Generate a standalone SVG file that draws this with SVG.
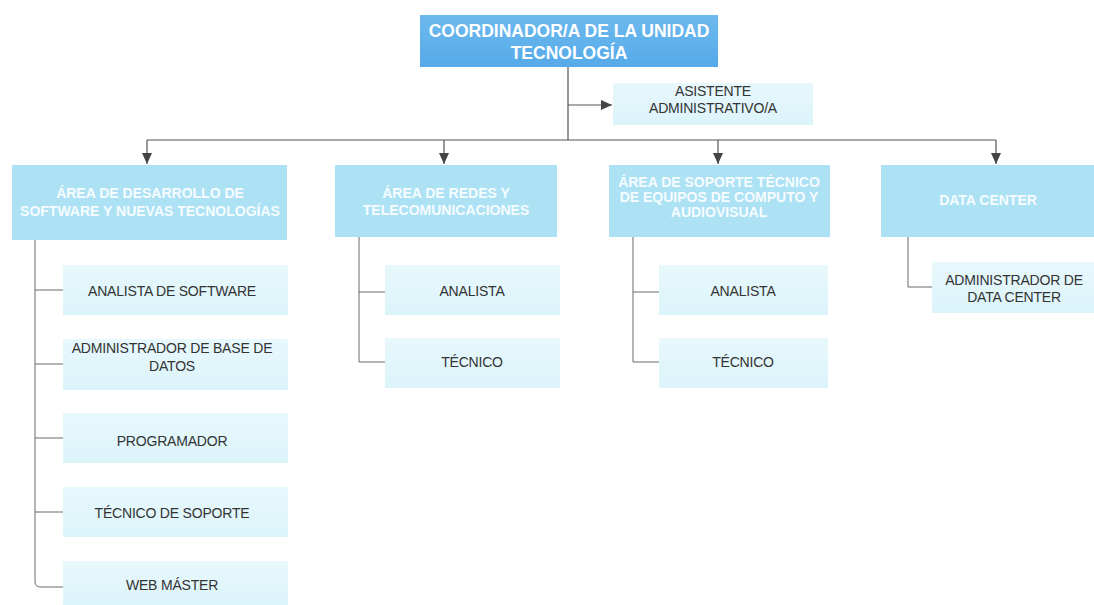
<svg xmlns="http://www.w3.org/2000/svg" width="1094" height="605" viewBox="0 0 1094 605">
<style>
.top{fill:url(#gTop)}
.l2{fill:#ade2f5}
.ch{fill:url(#gCh)}
.tw{font-family:"Liberation Sans",Arial,sans-serif;font-weight:bold;fill:#ffffff;text-anchor:middle;dominant-baseline:central}
.tt{font-size:17.5px}
.t2{font-size:14px;fill:#f6fcff}
.tc{font-family:"Liberation Sans",Arial,sans-serif;font-size:14px;letter-spacing:-0.2px;fill:#333333;text-anchor:middle;dominant-baseline:central}
.ln{fill:none;stroke:#555555;stroke-width:1.2}
.br{fill:none;stroke:#6a6a6a;stroke-width:1}
</style>
<defs>
<linearGradient id="gTop" x1="0" y1="0" x2="0" y2="1">
<stop offset="0" stop-color="#6cb9ee"/>
<stop offset="1" stop-color="#56aae9"/>
</linearGradient>
<linearGradient id="gCh" x1="0" y1="0" x2="0" y2="1">
<stop offset="0" stop-color="#e8f8fc"/>
<stop offset="1" stop-color="#dbf4fa"/>
</linearGradient>
<marker id="arr" markerUnits="userSpaceOnUse" markerWidth="12" markerHeight="12" viewBox="0 0 12 12" refX="11" refY="6" orient="auto">
<path d="M0,1 L11,6 L0,11 Z" fill="#444444"/>
</marker>
</defs>

<g id="connectors">
<path class="ln" d="M568 67 V140"/>
<path class="ln" d="M568 105 H612" marker-end="url(#arr)"/>
<path class="ln" d="M147 140 H996"/>
<path class="ln" d="M147 140 V164" marker-end="url(#arr)"/>
<path class="ln" d="M444 140 V164" marker-end="url(#arr)"/>
<path class="ln" d="M718 140 V164" marker-end="url(#arr)"/>
<path class="ln" d="M996 140 V164" marker-end="url(#arr)"/>
<path class="br" d="M35 239 V582 Q35 587 41 587 H63"/>
<path class="br" d="M35 290 H63 M35 364 H63 M35 438 H63 M35 512 H63"/>
<path class="br" d="M359 237 V362 H385 M359 292 H385"/>
<path class="br" d="M633 237 V362 H659 M633 292 H659"/>
<path class="br" d="M908 237 V287 H932"/>
</g>

<g id="coordinador">
<rect class="top" x="420" y="15" width="298" height="52"/>
<text class="tw tt" x="569" y="31">COORDINADOR/A DE LA UNIDAD</text>
<text class="tw tt" x="569" y="53">TECNOLOGÍA</text>
</g>

<g id="asistente">
<rect class="ch" x="613" y="83" width="200" height="42"/>
<text class="tc" x="713" y="91">ASISTENTE</text>
<text class="tc" x="713" y="108">ADMINISTRATIVO/A</text>
</g>

<g id="area-desarrollo">
<rect class="l2" x="12" y="165" width="275" height="75"/>
<text class="tw t2" x="150" y="193">ÁREA DE DESARROLLO DE</text>
<text class="tw t2" x="150" y="211">SOFTWARE Y NUEVAS TECNOLOGÍAS</text>
</g>

<g id="area-redes">
<rect class="l2" x="335" y="165" width="222" height="72"/>
<text class="tw t2" x="446" y="193">ÁREA DE REDES Y</text>
<text class="tw t2" x="446" y="210">TELECOMUNICACIONES</text>
</g>

<g id="area-soporte">
<rect class="l2" x="609" y="165" width="221" height="72"/>
<text class="tw t2" x="719" y="182">ÁREA DE SOPORTE TÉCNICO</text>
<text class="tw t2" x="719" y="197">DE EQUIPOS DE COMPUTO Y</text>
<text class="tw t2" x="719" y="212">AUDIOVISUAL</text>
</g>

<g id="data-center">
<rect class="l2" x="881" y="165" width="213" height="72"/>
<text class="tw t2" x="988" y="200">DATA CENTER</text>
</g>

<g id="analista-software">
<rect class="ch" x="63" y="265" width="225" height="50"/>
<text class="tc" x="172" y="291">ANALISTA DE SOFTWARE</text>
</g>
<g id="admin-bd">
<rect class="ch" x="63" y="339" width="225" height="51"/>
<text class="tc" x="172" y="348">ADMINISTRADOR DE BASE DE</text>
<text class="tc" x="172" y="366">DATOS</text>
</g>
<g id="programador">
<rect class="ch" x="63" y="413" width="225" height="50"/>
<text class="tc" x="172" y="441">PROGRAMADOR</text>
</g>
<g id="tecnico-soporte">
<rect class="ch" x="63" y="487" width="225" height="50"/>
<text class="tc" x="172" y="513">TÉCNICO DE SOPORTE</text>
</g>
<g id="web-master">
<rect class="ch" x="63" y="561" width="225" height="44"/>
<text class="tc" x="172" y="585">WEB MÁSTER</text>
</g>

<g id="analista-redes">
<rect class="ch" x="385" y="265" width="175" height="50"/>
<text class="tc" x="472" y="291">ANALISTA</text>
</g>
<g id="tecnico-redes">
<rect class="ch" x="385" y="338" width="175" height="50"/>
<text class="tc" x="472" y="362">TÉCNICO</text>
</g>

<g id="analista-soporte">
<rect class="ch" x="659" y="265" width="169" height="50"/>
<text class="tc" x="743" y="291">ANALISTA</text>
</g>
<g id="tecnico-soporte-equipos">
<rect class="ch" x="659" y="338" width="169" height="50"/>
<text class="tc" x="743" y="362">TÉCNICO</text>
</g>

<g id="admin-data-center">
<rect class="ch" x="932" y="262" width="162" height="51"/>
<text class="tc" x="1014" y="280">ADMINISTRADOR DE</text>
<text class="tc" x="1014" y="297">DATA CENTER</text>
</g>
</svg>
